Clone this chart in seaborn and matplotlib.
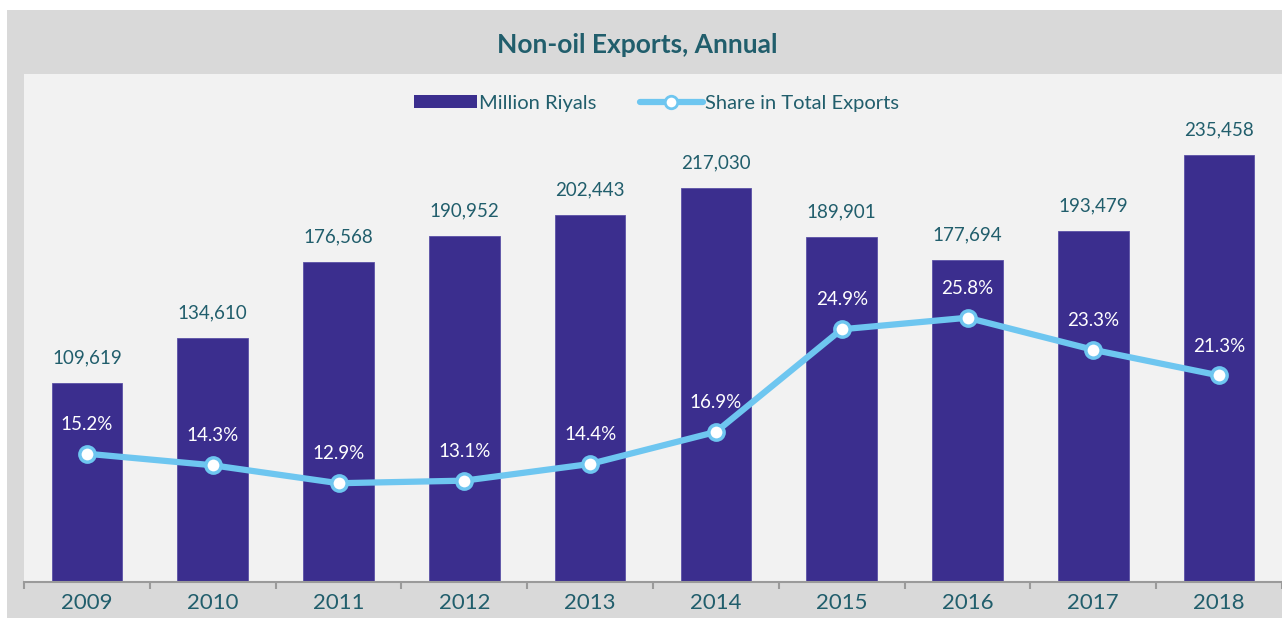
"""Non-oil exports, annual: bars in million riyals, line for share in total exports."""

import matplotlib.pyplot as plt
import numpy as np
import seaborn as sns
from matplotlib.lines import Line2D
from matplotlib.patches import Patch, Rectangle

years = ["2009", "2010", "2011", "2012", "2013", "2014", "2015", "2016", "2017", "2018"]
million_riyals = [109619, 134610, 176568, 190952, 202443, 217030, 189901, 177694, 193479, 235458]
share_pct = [15.2, 14.3, 12.9, 13.1, 14.4, 16.9, 24.9, 25.8, 23.3, 21.3]

BAR_COLOR = "#3b2e8e"
LINE_COLOR = "#6ec6f0"
TEXT_COLOR = "#215e6c"
FONT = ["Lato", "DejaVu Sans"]


def main() -> None:
    sns.set_theme(style="white")
    plt.rcParams["font.family"] = FONT

    fig = plt.figure(figsize=(12.82, 6.18), dpi=100, facecolor="white")
    fig.patches.append(
        Rectangle((7 / 1282, 0), 1, 1 - 10 / 618, transform=fig.transFigure,
                  facecolor="#d9d9d9", edgecolor="none", zorder=-10)
    )

    ax = fig.add_axes([24 / 1282, 1 - 582 / 618, 1 - 24 / 1282, (582 - 74) / 618])
    ax.set_facecolor("#f2f2f2")

    sns.barplot(x=years, y=million_riyals, color=BAR_COLOR, width=0.56,
                saturation=1, edgecolor="#5b51a6", linewidth=0.6, ax=ax, zorder=2)
    ax.set_ylim(0, 280000)
    ax.set_xlim(-0.5, len(years) - 0.5)

    for i, v in enumerate(million_riyals):
        ax.annotate(f"{v:,}", (i, v), xytext=(0, 12), textcoords="offset points",
                    ha="center", va="bottom", fontsize=13.5, color=TEXT_COLOR)

    ax2 = ax.twinx()
    positions = np.arange(len(years))
    sns.lineplot(x=positions, y=share_pct, color=LINE_COLOR, linewidth=4.5,
                 marker="o", markersize=11, markerfacecolor="white",
                 markeredgecolor=LINE_COLOR, markeredgewidth=2.5, ax=ax2)
    ax2.set_ylim(5.2, 44.8)
    ax2.set_yticks([])
    ax2.set_ylabel("")

    for i, v in enumerate(share_pct):
        ax2.annotate(f"{v}%", (i, v), xytext=(0, 15), textcoords="offset points",
                     ha="center", va="bottom", fontsize=13.5, color="white")

    for a in (ax, ax2):
        for side in ("top", "right", "left", "bottom"):
            a.spines[side].set_visible(False)
    ax.spines["bottom"].set_visible(True)
    ax.spines["bottom"].set_color("#9a9a9a")
    ax.spines["bottom"].set_linewidth(1.5)

    ax.set_yticks([])
    ax.set_ylabel("")
    ax.set_xticks(positions)
    ax.set_xticklabels(years)
    ax.set_xticks(np.arange(len(years) + 1) - 0.5, minor=True)
    ax.tick_params(axis="x", which="major", length=0, labelsize=16,
                   labelcolor=TEXT_COLOR, pad=8)
    ax.tick_params(axis="x", which="minor", length=5, width=1.5, color="#9a9a9a",
                   direction="out", bottom=True)

    fig.text(0.497, 1 - 45 / 618, "Non-oil Exports, Annual", ha="center", va="center",
             fontsize=19, fontweight="bold", color=TEXT_COLOR)

    handles = [
        Patch(facecolor=BAR_COLOR, edgecolor="none"),
        Line2D([], [], color=LINE_COLOR, linewidth=4.5, marker="o", markersize=9,
               markerfacecolor="white", markeredgecolor=LINE_COLOR, markeredgewidth=2),
    ]
    fig.legend(handles, ["Million Riyals", "Share in Total Exports"], loc="center",
               bbox_to_anchor=(0.512, 1 - 103 / 618), ncol=2, frameon=False,
               fontsize=14.5, labelcolor=TEXT_COLOR, handlelength=3.1, handleheight=0.6,
               handletextpad=0.1, columnspacing=2.2)

    fig.savefig("out.png", dpi=100, facecolor=fig.get_facecolor())
    plt.close(fig)


if __name__ == "__main__":
    main()
